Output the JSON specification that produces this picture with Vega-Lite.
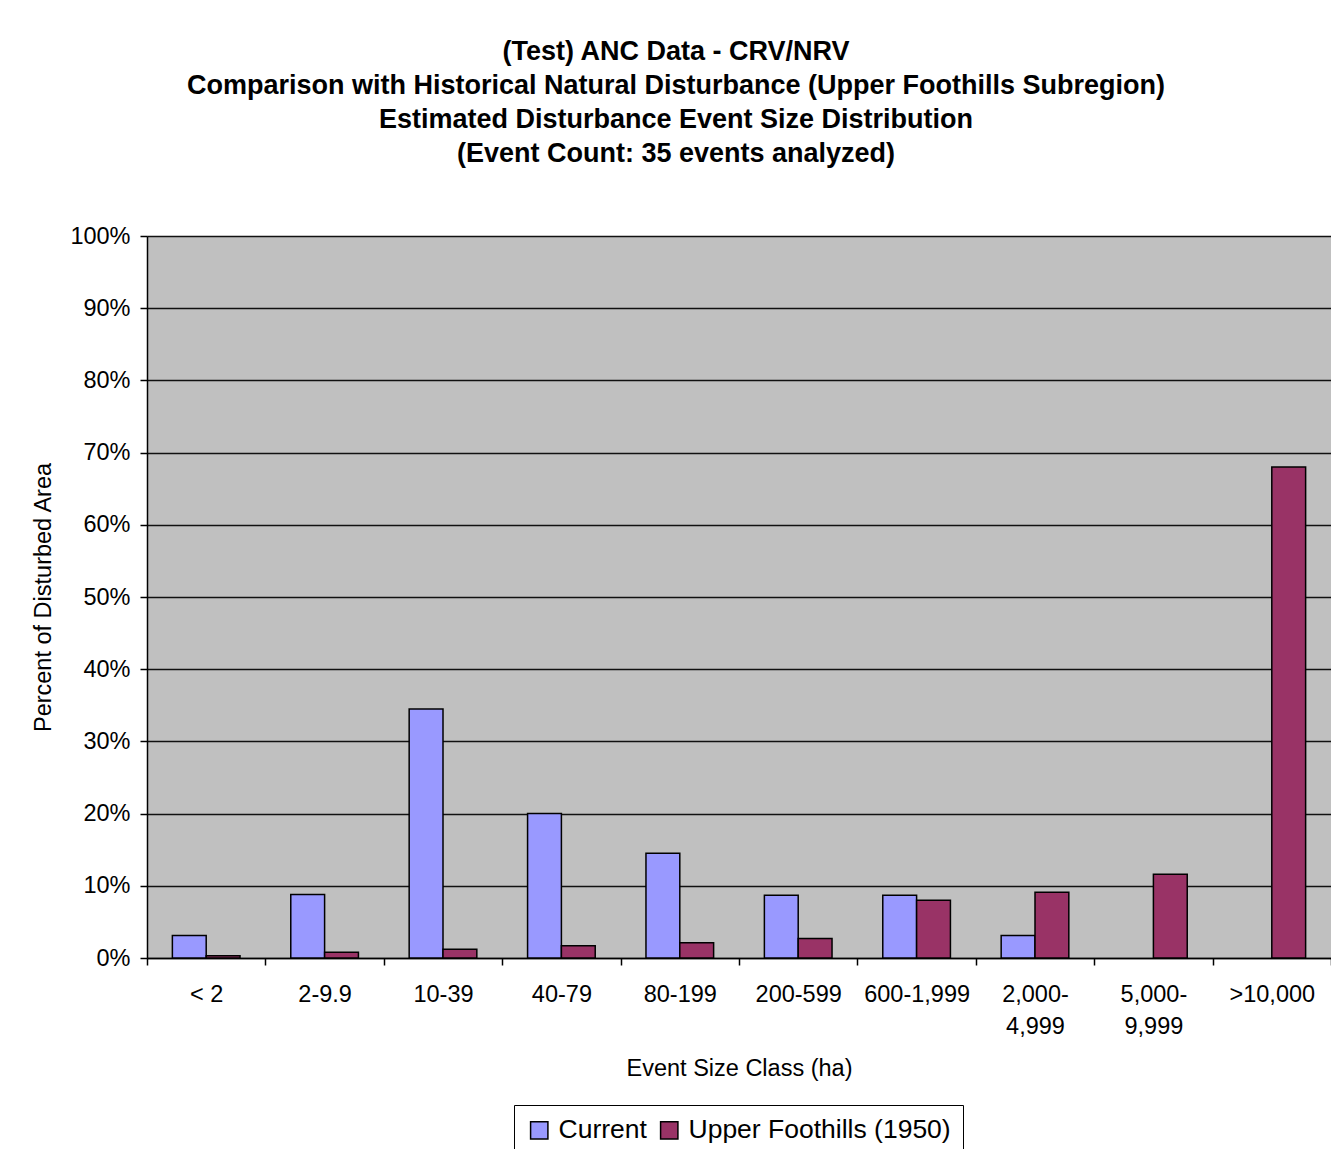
{
  "$schema": "https://vega.github.io/schema/vega-lite/v6.json",
  "autosize": "none",
  "padding": {"left": 147, "top": 236, "right": 0, "bottom": 191},
  "width": 1184,
  "height": 722,
  "background": "white",
  "config": {
    "font": "Liberation Sans",
    "view": {"fill": "#C0C0C0", "stroke": null}
  },
  "title": {
    "text": [
      "(Test) ANC Data - CRV/NRV",
      "Comparison with Historical Natural Disturbance (Upper Foothills Subregion)",
      "Estimated Disturbance Event Size Distribution",
      "(Event Count: 35 events analyzed)"
    ],
    "fontSize": 27,
    "fontWeight": "bold",
    "color": "black",
    "anchor": "middle",
    "dx": -63,
    "lineHeight": 34,
    "offset": 56
  },
  "data": {
    "values": [
      {"sizeClass": "< 2", "series": "Current", "pct": 3.1},
      {"sizeClass": "< 2", "series": "Upper Foothills (1950)", "pct": 0.3},
      {"sizeClass": "2-9.9", "series": "Current", "pct": 8.8},
      {"sizeClass": "2-9.9", "series": "Upper Foothills (1950)", "pct": 0.8},
      {"sizeClass": "10-39", "series": "Current", "pct": 34.5},
      {"sizeClass": "10-39", "series": "Upper Foothills (1950)", "pct": 1.2},
      {"sizeClass": "40-79", "series": "Current", "pct": 20.0},
      {"sizeClass": "40-79", "series": "Upper Foothills (1950)", "pct": 1.7},
      {"sizeClass": "80-199", "series": "Current", "pct": 14.5},
      {"sizeClass": "80-199", "series": "Upper Foothills (1950)", "pct": 2.1},
      {"sizeClass": "200-599", "series": "Current", "pct": 8.7},
      {"sizeClass": "200-599", "series": "Upper Foothills (1950)", "pct": 2.7},
      {"sizeClass": "600-1,999", "series": "Current", "pct": 8.7},
      {"sizeClass": "600-1,999", "series": "Upper Foothills (1950)", "pct": 8.0},
      {"sizeClass": "2,000-\n4,999", "series": "Current", "pct": 3.1},
      {"sizeClass": "2,000-\n4,999", "series": "Upper Foothills (1950)", "pct": 9.1},
      {"sizeClass": "5,000-\n9,999", "series": "Upper Foothills (1950)", "pct": 11.6},
      {"sizeClass": ">10,000", "series": "Upper Foothills (1950)", "pct": 68.0}
    ]
  },
  "mark": {"type": "bar", "stroke": "black", "strokeWidth": 1.5},
  "encoding": {
    "x": {
      "field": "sizeClass",
      "type": "nominal",
      "sort": ["< 2", "2-9.9", "10-39", "40-79", "80-199", "200-599", "600-1,999", "2,000-\n4,999", "5,000-\n9,999", ">10,000"],
      "scale": {"paddingInner": 0, "paddingOuter": 0},
      "axis": {
        "title": "Event Size Class (ha)",
        "labelAngle": 0,
        "tickBand": "extent",
        "grid": false,
        "domainColor": "black",
        "domainWidth": 1.5,
        "tickColor": "black",
        "tickWidth": 1.5,
        "tickSize": 7,
        "labelFontSize": 23.5,
        "labelColor": "black",
        "labelPadding": 17,
        "labelLineHeight": 32,
        "labelExpr": "split(datum.label, '\\n')",
        "titleFontSize": 23.5,
        "titleFontWeight": "normal",
        "titleColor": "black",
        "titlePadding": 19
      }
    },
    "xOffset": {
      "field": "series",
      "sort": ["Current", "Upper Foothills (1950)"],
      "scale": {"paddingInner": 0, "paddingOuter": 0.75}
    },
    "y": {
      "field": "pct",
      "type": "quantitative",
      "scale": {"domain": [0, 100]},
      "axis": {
        "title": "Percent of Disturbed Area",
        "values": [0, 10, 20, 30, 40, 50, 60, 70, 80, 90, 100],
        "labelExpr": "datum.value + '%'",
        "grid": true,
        "gridColor": "#111111",
        "gridWidth": 1.5,
        "domainColor": "black",
        "domainWidth": 1.5,
        "tickColor": "black",
        "tickWidth": 1.5,
        "tickSize": 7,
        "labelFontSize": 23.5,
        "labelColor": "black",
        "labelPadding": 10,
        "titleFontSize": 23.5,
        "titleFontWeight": "normal",
        "titleColor": "black",
        "titlePadding": 14
      }
    },
    "color": {
      "field": "series",
      "type": "nominal",
      "scale": {"domain": ["Current", "Upper Foothills (1950)"], "range": ["#9999FF", "#993366"]},
      "legend": {
        "title": null,
        "orient": "none",
        "legendX": 367,
        "legendY": 869,
        "direction": "horizontal",
        "fillColor": "white",
        "strokeColor": "black",
        "padding": 12,
        "symbolType": "square",
        "symbolSize": 300,
        "symbolStrokeColor": "black",
        "symbolStrokeWidth": 1.5,
        "symbolOpacity": 1,
        "labelFontSize": 26.5,
        "labelColor": "black",
        "labelOffset": 6,
        "labelLimit": 400,
        "columnPadding": 9
      }
    }
  }
}
